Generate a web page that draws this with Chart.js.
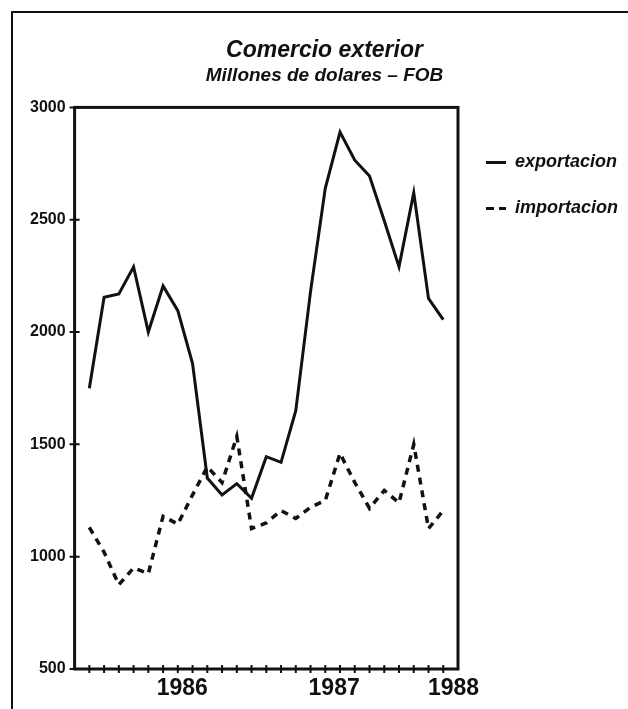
<!DOCTYPE html>
<html>
<head>
<meta charset="utf-8">
<script src="https://cdn.jsdelivr.net/npm/chart.js@4/dist/chart.umd.min.js"></script>
<style>
  html, body { margin: 0; padding: 0; background: #fff; }
  #wrap { position: relative; width: 628px; height: 709px; overflow: hidden; }
  #frame { position: absolute; left: 11px; top: 11px; width: 640px; height: 720px;
           border-top: 2px solid #111; border-left: 2px solid #111; }
  #c { position: absolute; left: 0; top: 0; }
</style>
</head>
<body>
<div id="wrap">
  <div id="frame"></div>
  <canvas id="c" width="628" height="709"></canvas>
</div>
<script>
// periodos (meses) sobre el eje x, y los valores
const periods = [1, 2, 3, 4, 5, 6, 7, 8, 9, 10, 11, 12, 13, 14, 15, 16, 17, 18, 19, 20, 21, 22, 23, 24, 25];
const exportacion = [1750, 2155, 2170, 2290, 2000, 2205, 2095, 1860, 1350, 1275, 1325, 1260, 1445,
                     1420, 1650, 2180, 2640, 2890, 2765, 2695, 2495, 2290, 2620, 2150, 2055];
const importacion = [1130, 1020, 875, 950, 925, 1180, 1145, 1275, 1400, 1330, 1535, 1125, 1150,
                     1205, 1170, 1220, 1250, 1460, 1330, 1215, 1295, 1240, 1500, 1125, 1205];
const yearLabels = ['1986', '1987', '1988'];
const yearPos = [7.3, 17.6, 25.7];

const FONT = '"Liberation Sans", Arial, sans-serif';
const INK = '#111';

const toXY = (vals) => periods.map((p, i) => ({ x: p, y: vals[i] }));

// marco del area del grafico + marcas cruzadas de los ejes
const marks = {
  id: 'marks',
  afterDraw(chart) {
    const { ctx, chartArea: a, scales: { x, y } } = chart;
    ctx.save();
    ctx.strokeStyle = INK;
    ctx.lineWidth = 3;
    ctx.strokeRect(a.left, a.top, a.right - a.left, a.bottom - a.top);
    ctx.lineWidth = 2;
    ctx.beginPath();
    periods.forEach(v => {
      const px = x.getPixelForValue(v);
      ctx.moveTo(px, a.bottom - 4);
      ctx.lineTo(px, a.bottom + 4);
    });
    y.ticks.forEach(t => {
      const py = y.getPixelForValue(t.value);
      ctx.moveTo(a.left - 5, py);
      ctx.lineTo(a.left + 5, py);
    });
    ctx.stroke();
    ctx.restore();
  }
};

const legendDash = [[], [8, 5]];

new Chart(document.getElementById('c'), {
  type: 'line',
  data: {
    datasets: [
      {
        label: 'exportacion',
        data: toXY(exportacion),
        borderColor: INK,
        backgroundColor: INK,
        borderWidth: 3,
        pointRadius: 0,
        tension: 0
      },
      {
        label: 'importacion',
        data: toXY(importacion),
        borderColor: INK,
        backgroundColor: INK,
        borderWidth: 3.5,
        borderDash: [7, 6],
        pointRadius: 0,
        tension: 0
      }
    ]
  },
  options: {
    responsive: false,
    animation: false,
    layout: { padding: { left: 21, right: 0, top: 0, bottom: 0 } },
    plugins: {
      title: {
        display: true,
        text: 'Comercio exterior',
        color: INK,
        font: { family: FONT, size: 23, weight: 'bold', style: 'italic' },
        padding: { top: 37, bottom: 0 }
      },
      subtitle: {
        display: true,
        text: 'Millones de dolares \u2013 FOB',
        color: INK,
        font: { family: FONT, size: 19, weight: 'bold', style: 'italic' },
        padding: { top: 0, bottom: 20 }
      },
      legend: {
        position: 'right',
        align: 'start',
        fullSize: false,
        maxWidth: 200,
        title: { display: true, text: ' ', font: { size: 10 }, padding: 3 },
        labels: {
          usePointStyle: true,
          pointStyle: 'line',
          pointStyleWidth: 20,
          padding: 28,
          color: INK,
          font: { family: FONT, size: 18, weight: 'bold', style: 'italic' },
          generateLabels: (chart) =>
            Chart.defaults.plugins.legend.labels.generateLabels(chart).map((item, i) => ({
              ...item,
              lineWidth: 3,
              lineDash: legendDash[i],
              strokeStyle: INK
            }))
        }
      },
      tooltip: { enabled: false }
    },
    scales: {
      x: {
        type: 'linear',
        min: 0,
        max: 26,
        grid: { display: false, drawTicks: false },
        border: { display: false },
        afterBuildTicks: (scale) => { scale.ticks = yearPos.map(v => ({ value: v })); },
        ticks: {
          autoSkip: false,
          maxRotation: 0,
          padding: 10,
          color: INK,
          font: { family: FONT, size: 23, weight: 'bold', lineHeight: 0.87 },
          callback: (value, index) => yearLabels[index]
        }
      },
      y: {
        min: 500,
        max: 3000,
        grid: { display: false, drawTicks: false },
        border: { display: false },
        ticks: {
          stepSize: 500,
          padding: 9,
          color: INK,
          font: { family: FONT, size: 16, weight: 'bold' },
          callback: (value) => String(value)
        }
      }
    }
  },
  plugins: [marks]
});
</script>
</body>
</html>
